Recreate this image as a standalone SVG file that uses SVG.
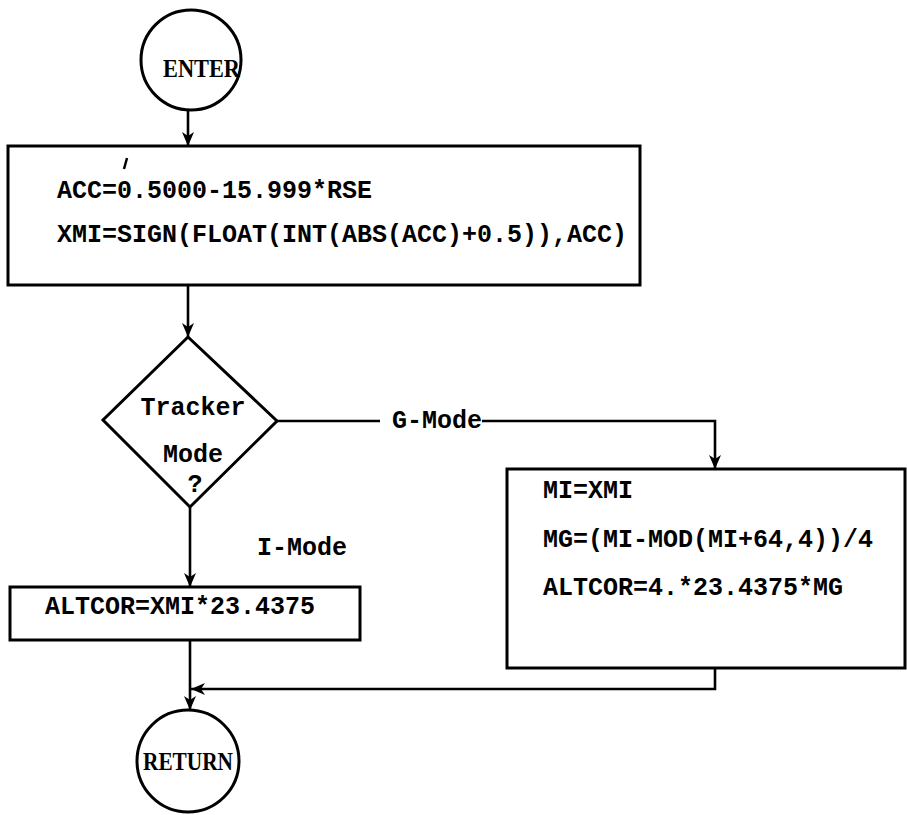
<svg xmlns="http://www.w3.org/2000/svg" width="907" height="815" viewBox="0 0 907 815">
<style>
.shape{fill:#fff;stroke:#000;stroke-width:3}
.conn{fill:none;stroke:#000;stroke-width:2.6}
.mono{font-family:"Liberation Mono","Courier New",monospace;font-weight:bold;font-size:25px;fill:#000}
.serif{font-family:"Liberation Serif","Times New Roman",serif;font-weight:bold;font-size:25px;fill:#000}
</style>
<defs>
<marker id="arr" viewBox="0 0 14 12" refX="14" refY="6" markerWidth="14" markerHeight="12" orient="auto" markerUnits="userSpaceOnUse">
<path d="M0,0 L14,6 L0,12 L4,6 Z" fill="#000"/>
</marker>
</defs>
<rect width="907" height="815" fill="#fff"/>
<g id="connectors">
<path class="conn" d="M188,110 L188,146" marker-end="url(#arr)"/>
<path class="conn" d="M188,285 L188,337" marker-end="url(#arr)"/>
<path class="conn" d="M277,421 L380,421"/>
<path class="conn" d="M482,421 L715,421 L715,469" marker-end="url(#arr)"/>
<path class="conn" d="M190,507 L190,587" marker-end="url(#arr)"/>
<path class="conn" d="M715,668 L715,689 L191,689" marker-end="url(#arr)"/>
<path class="conn" d="M190,640 L190,710" marker-end="url(#arr)"/>
<text class="mono" x="392" y="428">G-Mode</text>
<text class="mono" x="257" y="555">I-Mode</text>
</g>
<g id="enter">
<circle class="shape" cx="191" cy="60" r="50"/>
<text class="serif" x="163" y="77" textLength="77" lengthAdjust="spacingAndGlyphs">ENTER</text>
</g>
<g id="compute-acc">
<rect class="shape" x="8" y="146" width="632" height="139"/>
<path d="M127,158 L124,169" stroke="#000" stroke-width="2.5"/>
<text class="mono" x="57" y="198">ACC=0.5000-15.999*RSE</text>
<text class="mono" x="57" y="242">XMI=SIGN(FLOAT(INT(ABS(ACC)+0.5)),ACC)</text>
</g>
<g id="decision">
<polygon class="shape" points="188,337 277,421 190,507 103,420"/>
<text class="mono" x="193" y="415" text-anchor="middle">Tracker</text>
<text class="mono" x="193" y="462" text-anchor="middle">Mode</text>
<text class="mono" x="195" y="492" text-anchor="middle">?</text>
</g>
<g id="g-mode-box">
<rect class="shape" x="507" y="469" width="398" height="199"/>
<text class="mono" x="543" y="498">MI=XMI</text>
<text class="mono" x="543" y="547">MG=(MI-MOD(MI+64,4))/4</text>
<text class="mono" x="543" y="595">ALTCOR=4.*23.4375*MG</text>
</g>
<g id="i-mode-box">
<rect class="shape" x="10" y="587" width="350" height="53"/>
<text class="mono" x="45" y="614">ALTCOR=XMI*23.4375</text>
</g>
<g id="return">
<circle class="shape" cx="188" cy="761" r="51"/>
<text class="serif" x="143" y="770" textLength="90" lengthAdjust="spacingAndGlyphs">RETURN</text>
</g>
</svg>
